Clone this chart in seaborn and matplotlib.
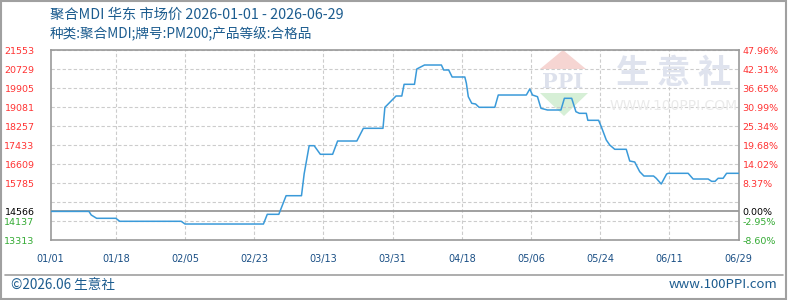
import numpy as np
import pandas as pd
import seaborn as sns
import matplotlib
matplotlib.use("Agg")
import matplotlib.pyplot as plt
from matplotlib.patches import Polygon, Rectangle
from matplotlib.lines import Line2D

# ---------------- data ----------------
title_line1 = "聚合MDI 华东 市场价 2026-01-01 - 2026-06-29"
title_line2 = "种类:聚合MDI;牌号:PM200;产品等级:合格品"

# day offset from 2026-01-01
days = [0, 10, 10.6, 12, 17, 18, 34, 35, 55.4, 56.4, 59.4, 61.3, 65.3, 66, 67.3,
        68.6, 70.2, 73.4, 74.7, 79.7, 81.4, 86.5, 87, 87.6, 89.9, 91.4, 92, 94.7,
        95.3, 97.3, 101.7, 102.3, 103.6, 104.5, 107.8, 108.2, 108.7, 109.6, 110.6,
        111.5, 115.6, 116.5, 123.8, 124.7, 125.4, 126.7, 127.6, 129.3, 132.8, 133.7,
        135.6, 136.7, 137.6, 139.4, 139.8, 142.6, 143.3, 144.6, 145.5, 146.8, 149.8,
        150.7, 152, 152.4, 153.3, 154.4, 156.9, 157.6, 158.9, 160.3, 160.7, 165.9,
        167.2, 171.1, 172, 172.9, 173.7, 175, 175.9, 179]
prices = [14566, 14566, 14410, 14267, 14267, 14137, 14137, 14019, 14019, 14440,
          14440, 15247, 15247, 16200, 17416, 17416, 17043, 17043, 17619, 17619,
          18170, 18170, 19081, 19180, 19571, 19571, 20078, 20078, 20742, 20915,
          20915, 20699, 20699, 20395, 20395, 20122, 19541, 19254, 19224, 19081,
          19081, 19614, 19614, 19875, 19614, 19541, 19038, 18964, 18964, 19471,
          19471, 18890, 18820, 18820, 18517, 18517, 18240, 17663, 17446, 17260,
          17260, 16752, 16709, 16578, 16288, 16101, 16101, 16002, 15755, 16188,
          16218, 16218, 15971, 15971, 15871, 15871, 16002, 16002, 16218, 16218]

x_tick_days = [0, 17, 35, 53, 71, 89, 107, 125, 143, 161, 179]
x_tick_labels = ["01/01", "01/18", "02/05", "02/23", "03/13", "03/31",
                 "04/18", "05/06", "05/24", "06/11", "06/29"]

base_price = 14566
y_ticks = [13313, 14137, 14566, 14961, 15785, 16609, 17433, 18257, 19081,
           19905, 20729, 21553]
y_labels_left = ["13313", "14137", "14566", "", "15785", "16609", "17433",
                 "18257", "19081", "19905", "20729", "21553"]
y_labels_right = ["-8.60%", "-2.95%", "0.00%", "", "8.37%", "14.02%", "19.68%",
                  "25.34%", "30.99%", "36.65%", "42.31%", "47.96%"]

# ---------------- style ----------------
sns.set_theme(style="white")
plt.rcParams["font.family"] = ["Noto Sans CJK SC", "DejaVu Sans"]

W, H = 788, 300
fig = plt.figure(figsize=(W / 100, H / 100), dpi=100)
fig.patch.set_facecolor("white")


def fx(x):
    return x / W


def fy(y):
    return 1 - y / H


ax_left, ax_right, ax_top, ax_bottom = 50.5, 738.5, 50.3, 240.3
ax = fig.add_axes([fx(ax_left), fy(ax_bottom), (ax_right - ax_left) / W,
                   (ax_bottom - ax_top) / H])
ax.set_facecolor("none")

grid_kw = dict(color="#cccccc", lw=0.8, ls=(0, (3, 2)), zorder=1)
for yv in y_ticks:
    if yv != base_price:
        ax.axhline(yv, **grid_kw)
for xv in x_tick_days[1:-1]:
    ax.axvline(xv, **grid_kw)
ax.axhline(base_price, color="#999999", lw=1.3, zorder=2)

df = pd.DataFrame({"day": days, "price": prices})
sns.lineplot(data=df, x="day", y="price", ax=ax, color="#3a9ad9",
             linewidth=1.1, zorder=4)

ax.set_xlim(0, 179)
ax.set_ylim(13313, 21553)
ax.set_xlabel("")
ax.set_ylabel("")
ax.set_xticks(x_tick_days)
ax.set_xticklabels(x_tick_labels, fontsize=7, color="#1a4f85",
                   family="DejaVu Sans")
ax.set_yticks(y_ticks)
ax.set_yticklabels(y_labels_left, fontsize=6.8, family="DejaVu Sans")
ax.tick_params(axis="x", length=0, pad=10)
ax.tick_params(axis="y", length=0, pad=11.5)


def lab_color(v):
    if v > base_price:
        return "#ff3333"
    if v < base_price:
        return "#33aa33"
    return "#000000"


for t, v in zip(ax.get_yticklabels(), y_ticks):
    t.set_color(lab_color(v))

for s in ax.spines.values():
    s.set_color("#999999")
    s.set_linewidth(1.2)
    s.set_visible(True)

ax2 = ax.twinx()
ax2.set_ylim(13313, 21553)
ax2.set_yticks(y_ticks)
ax2.set_yticklabels(y_labels_right, fontsize=6.8, family="DejaVu Sans")
ax2.tick_params(axis="y", length=0, pad=3)
for t, v in zip(ax2.get_yticklabels(), y_ticks):
    t.set_color(lab_color(v))
for s in ax2.spines.values():
    s.set_visible(False)

# ---------------- watermark ----------------
fig.add_artist(Polygon([(fx(540), fy(69)), (fx(586), fy(69)), (fx(563), fy(50))],
                       closed=True, transform=fig.transFigure,
                       facecolor="#f6d5d2", edgecolor="none", zorder=0))
fig.add_artist(Polygon([(fx(540), fy(93)), (fx(588), fy(93)), (fx(564), fy(116))],
                       closed=True, transform=fig.transFigure,
                       facecolor="#d6efd6", edgecolor="none", zorder=0))
fig.text(fx(563), fy(82), "PPI", ha="center", va="center", fontsize=15,
         color="#dde1ec", fontweight="bold", family="DejaVu Serif", zorder=0)
fig.text(fx(674), fy(73), "生 意 社", ha="center", va="center", fontsize=24,
         color="#dfe3ee", fontweight="bold", zorder=0)
fig.text(fx(674), fy(106), "WWW.100PPI.COM", ha="center", va="center",
         fontsize=10, color="#eaeaea", family="DejaVu Sans", zorder=0)

# ---------------- titles ----------------
fig.text(fx(50), fy(15), title_line1, ha="left", va="center", fontsize=10.3,
         color="#1c5c8f")
fig.text(fx(50), fy(34), title_line2, ha="left", va="center", fontsize=9.8,
         color="#1c5c8f")

# ---------------- footer ----------------
fig.add_artist(Line2D([fx(5), fx(783)], [fy(275), fy(275)],
                      transform=fig.transFigure, color="#a0a0a0", lw=1.2))
fig.text(fx(11), fy(285), "©2026.06 生意社", ha="left", va="center",
         fontsize=9.8, color="#1c5c8f")
fig.text(fx(777), fy(285), "www.100PPI.com", ha="right", va="center",
         fontsize=9.5, color="#1c5c8f")
fig.add_artist(Rectangle((0.001, 0.002), 0.997, 0.996, transform=fig.transFigure,
                         fill=False, edgecolor="#a0a0a0", lw=1.5))

fig.savefig("out.png", dpi=100)
